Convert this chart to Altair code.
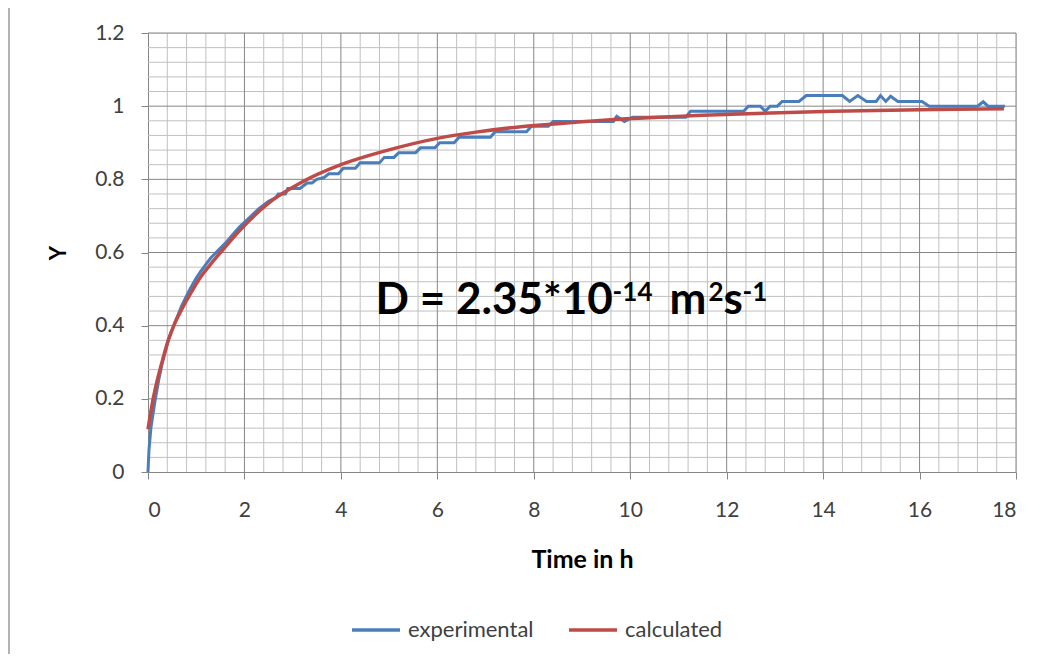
import altair as alt
import pandas as pd

# ---------------- data ----------------
exp_t = [0, 0.02, 0.06, 0.14, 0.22, 0.3, 0.42, 0.55, 0.7, 0.85, 1.0, 1.1, 1.3, 1.45, 1.6,
         1.75, 1.9, 2.1, 2.3, 2.5, 2.65,
         2.7, 2.85, 2.9, 3.15, 3.3, 3.4, 3.5, 3.65, 3.75, 3.95, 4.05, 4.3, 4.4, 4.8,
         4.9, 5.1, 5.2, 5.55, 5.65, 5.95, 6.05, 6.35, 6.45, 7.1, 7.2, 7.85, 7.95, 8.3,
         8.4, 9.65, 9.72, 9.88, 10.05, 11.15, 11.25, 12.35, 12.45, 12.7, 12.8, 12.9,
         13.05, 13.15, 13.5, 13.65, 14.4, 14.55, 14.72, 14.9, 15.1, 15.19, 15.3, 15.4,
         15.55, 16.05, 16.2, 17.2, 17.32, 17.42, 17.77]
exp_y = [0, 0.06, 0.12, 0.19, 0.25, 0.3, 0.36, 0.405, 0.455, 0.495, 0.53, 0.55, 0.585, 0.605, 0.625,
         0.648, 0.67, 0.695, 0.72, 0.74, 0.75,
         0.76, 0.76, 0.775, 0.775, 0.79, 0.79, 0.8, 0.805, 0.815, 0.815, 0.83, 0.83, 0.845, 0.845,
         0.86, 0.86, 0.873, 0.873, 0.886, 0.886, 0.9, 0.9, 0.915, 0.915, 0.93, 0.93, 0.945, 0.945,
         0.958, 0.958, 0.972, 0.958, 0.97, 0.97, 0.986, 0.986, 1.0, 1.0, 0.986, 1.0,
         1.0, 1.013, 1.013, 1.029, 1.029, 1.013, 1.029, 1.013, 1.013, 1.029, 1.013, 1.027,
         1.013, 1.013, 1.0, 1.0, 1.012, 1.0, 1.0]

calc_t = [0, 0.04, 0.1, 0.2, 0.3, 0.42, 0.55, 0.7, 0.87, 1.05, 1.28, 1.6, 1.9, 2.5, 3.2,
          4.0, 4.9, 6.0, 6.8, 7.6, 8.5, 10.0, 12.1, 14.2, 16.3, 17.75]
calc_y = [0.117, 0.15, 0.195, 0.255, 0.305, 0.36, 0.405, 0.445, 0.485, 0.525, 0.565, 0.615,
          0.66, 0.735, 0.793, 0.84, 0.877, 0.912, 0.929, 0.942, 0.952, 0.966, 0.978, 0.986,
          0.991, 0.993]

series_names = ["experimental", "calculated"]
series_colors = ["#4A7EBB", "#BE4B48"]

x_major = [0, 2, 4, 6, 8, 10, 12, 14, 16, 18]
y_major = [0, 0.2, 0.4, 0.6, 0.8, 1.0, 1.2]
x_minor = [round(a + k * 0.4, 2) for a in x_major[:-1] for k in range(1, 5)]
y_minor = [round(a + k * 0.04, 2) for a in y_major[:-1] for k in range(1, 5)]

annotation = "D = 2.35*10"
ann_exp = "-14"
ann_unit1 = "m"
ann_sup1 = "2"
ann_unit2 = "s"
ann_sup2 = "-1"

# ---------------- tables ----------------
df = pd.DataFrame({
    "t": exp_t + calc_t,
    "y": exp_y + calc_y,
    "series": [series_names[0]] * len(exp_t) + [series_names[1]] * len(calc_t),
    "order": list(range(len(exp_t))) + list(range(len(calc_t))),
})

W, H = 868, 439
XS = alt.Scale(domain=[0, 18], nice=False, zero=False)
YS = alt.Scale(domain=[0, 1.2], nice=False, zero=False)

FONT = "Lato"
LABEL_COLOR = "#404040"

x_axis = alt.Axis(values=x_major, format="~g", grid=False, domainColor="#868686",
                  tickColor="#868686", tickSize=7, labelFont=FONT, labelFontSize=21,
                  labelColor=LABEL_COLOR, labelPadding=20, title="Time in h",
                  titleFont=FONT, titleFontSize=25, titleFontWeight="bold",
                  titleColor="black", titleX=W / 2, titleY=95,
                  titleBaseline="alphabetic")
y_axis = alt.Axis(values=y_major, format="~g", grid=False, domainColor="#868686",
                  tickColor="#868686", tickSize=7, labelFont=FONT, labelFontSize=21,
                  labelColor=LABEL_COLOR, labelPadding=17, title="Y",
                  titleFont=FONT, titleFontSize=22, titleFontWeight="bold",
                  titleColor="black", titleX=-90, titleY=H / 2,
                  titleAlign="center", titleBaseline="middle")

# grid (first layers carry the axes)
vminor = alt.Chart(pd.DataFrame({"v": x_minor})).mark_rule(
    color="#C0C0C0", strokeWidth=1).encode(
    x=alt.X("v:Q", scale=XS, axis=x_axis))
hminor = alt.Chart(pd.DataFrame({"v": y_minor})).mark_rule(color="#C0C0C0", strokeWidth=1).encode(
    y=alt.Y("v:Q", scale=YS, axis=y_axis))
vmajor = alt.Chart(pd.DataFrame({"v": x_major[1:]})).mark_rule(color="#868686", strokeWidth=1).encode(
    x=alt.X("v:Q", scale=XS))
hmajor = alt.Chart(pd.DataFrame({"v": y_major[1:]})).mark_rule(color="#868686", strokeWidth=1).encode(
    y=alt.Y("v:Q", scale=YS))

color = alt.Color("series:N", scale=alt.Scale(domain=series_names, range=series_colors),
                  legend=alt.Legend(orient="none", legendX=202, legendY=571,
                                    direction="horizontal", title=None,
                                    symbolType="stroke", symbolSize=2304,
                                    symbolStrokeWidth=3.5, labelFont=FONT,
                                    labelFontSize=22, labelColor=LABEL_COLOR,
                                    columnPadding=28, labelOffset=6, padding=0))

exp_line = alt.Chart(df).transform_filter(alt.datum.series == series_names[0]).mark_line(
    strokeWidth=3).encode(
    x=alt.X("t:Q", scale=XS),
    y=alt.Y("y:Q", scale=YS),
    color=color, order="order:Q")
calc_line = alt.Chart(df).transform_filter(alt.datum.series == series_names[1]).mark_line(
    strokeWidth=3.5, interpolate="monotone").encode(
    x=alt.X("t:Q", scale=XS),
    y=alt.Y("y:Q", scale=YS),
    color=color, order="order:Q")

# annotation pieces
def ann(txt, dx, dy, size):
    return alt.Chart(pd.DataFrame({"s": [txt]})).mark_text(
        font=FONT, fontWeight="bold", fontSize=size, color="black",
        align="left", baseline="alphabetic", dx=dx, dy=dy).encode(
        x=alt.XDatum(4.72, scale=XS), y=alt.YDatum(0.432, scale=YS), text="s:N")

anns = [ann(annotation, 0, 0, 44), ann(ann_exp, 237, -13, 26), ann(ann_unit1, 294, 0, 44),
        ann(ann_sup1, 333, -13, 26), ann(ann_unit2, 348, 0, 44), ann(ann_sup2, 367, -13, 26)]

# outer frame (decoration)
one = pd.DataFrame({"a": [0]})
frame_left = alt.Chart(one).mark_rule(color="#9a9a9a", strokeWidth=1.5).encode(
    x=alt.value(-139), y=alt.value(-26), y2=alt.value(640))
frame_top = alt.Chart(one).mark_rule(color="#9a9a9a", strokeWidth=1.5).encode(
    x=alt.value(-139), x2=alt.value(887), y=alt.value(-26))

chart = alt.layer(vminor, hminor, vmajor, hmajor, exp_line, calc_line, *anns,
                  frame_left, frame_top).properties(
    width=W, height=H,
    padding={"left": 140, "top": 25, "right": 15, "bottom": 182},
    autosize=alt.AutoSizeParams(type="none"),
).configure_view(stroke=None).configure(background="white")

chart.save("out.html", embed_options={"renderer": "svg", "actions": False})
